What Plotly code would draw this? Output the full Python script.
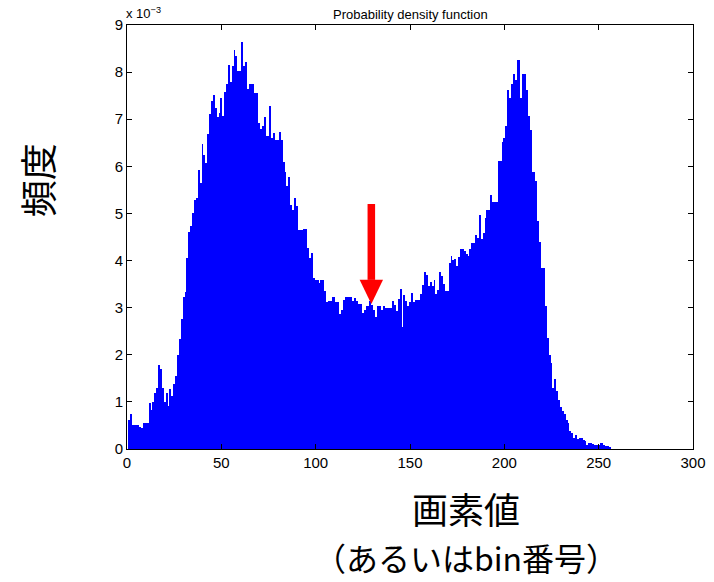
import plotly.graph_objects as go

# ---- data (in units of 1e-3) ----
bin_numbers = list(range(1, 257))
density_e3 = [
    0.62, 0.75, 0.50, 0.50, 0.50, 0.50, 0.47, 0.45, 0.55, 0.55,
    0.55, 0.97, 0.83, 1.00, 1.18, 1.30, 1.78, 1.70, 1.30, 1.00,
    1.18, 0.91, 1.27, 1.13, 1.39, 1.55, 1.99, 2.33, 2.77, 3.23,
    3.34, 4.05, 4.61, 4.73, 5.00, 5.28, 5.33, 5.92, 5.65, 6.47,
    6.24, 6.08, 6.69, 7.11, 7.39, 7.51, 7.23, 7.05, 7.14, 7.44,
    7.07, 7.57, 7.74, 8.16, 7.78, 8.14, 8.46, 8.34, 8.03, 8.03,
    8.63, 8.13, 8.21, 7.64, 7.74, 7.74, 7.74, 7.55, 7.55, 6.91,
    6.79, 6.86, 7.04, 6.65, 6.65, 7.28, 6.60, 6.71, 6.56, 6.56,
    6.72, 6.55, 6.09, 5.89, 5.58, 5.78, 5.18, 5.07, 5.32, 5.16,
    4.65, 4.65, 4.65, 4.67, 4.67, 4.26, 4.05, 4.15, 3.62, 3.59,
    3.59, 3.52, 3.59, 3.59, 3.35, 3.12, 3.15, 3.15, 3.22, 3.22,
    3.12, 3.12, 2.86, 2.94, 3.16, 3.22, 3.22, 3.22, 3.22, 3.15,
    3.20, 3.14, 3.07, 3.07, 2.88, 2.95, 3.03, 3.03, 3.14, 3.06,
    2.95, 2.81, 3.04, 3.04, 2.95, 3.04, 3.00, 2.99, 2.99, 2.99,
    3.14, 3.06, 2.92, 3.18, 3.40, 2.58, 3.27, 3.14, 3.04, 3.13,
    3.32, 3.13, 3.16, 3.16, 3.16, 3.29, 3.48, 3.76, 3.69, 3.45,
    3.55, 3.45, 3.59, 3.29, 3.38, 3.76, 3.67, 3.50, 3.35, 3.35,
    3.94, 4.10, 4.01, 4.03, 3.89, 4.08, 4.25, 4.25, 4.20, 4.13,
    4.10, 4.25, 4.37, 4.37, 4.54, 4.48, 4.97, 4.46, 4.58, 4.90,
    5.07, 5.07, 5.39, 5.25, 5.25, 5.25, 6.11, 6.11, 6.52, 6.60,
    6.86, 7.62, 7.44, 7.74, 7.96, 7.83, 8.25, 8.25, 7.44, 7.96,
    7.96, 7.62, 7.07, 6.77, 5.87, 5.87, 5.69, 4.85, 4.39, 3.84,
    3.84, 3.04, 2.35, 2.00, 1.82, 1.29, 1.48, 1.23, 1.04, 0.90,
    0.81, 0.74, 0.61, 0.56, 0.38, 0.35, 0.23, 0.30, 0.21, 0.23,
    0.24, 0.19, 0.17, 0.08, 0.13, 0.13, 0.10, 0.08, 0.08, 0.08,
    0.13, 0.13, 0.08, 0.07, 0.07, 0.05,
]
x_ticks = [0, 50, 100, 150, 200, 250, 300]
y_ticks = [0, 1, 2, 3, 4, 5, 6, 7, 8, 9]

# arrow marking the valley (data coordinates)
ARROW_X = 129.5
ARROW_TOP = 5.2
ARROW_HEAD_BASE = 3.59
ARROW_TIP = 3.08
SHAFT_HALF = 2.0
HEAD_HALF = 6.2

TICK_FONT = dict(family="Liberation Sans Narrow, Arial Narrow, Liberation Sans, Arial",
                 size=15, color="black")
CJK = "Noto Sans CJK JP, Noto Sans CJK SC, sans-serif"

fig = go.Figure(go.Bar(x=bin_numbers, y=density_e3, marker=dict(color="#0000FF", line=dict(width=0)),
                       width=1.0, hoverinfo="skip"))

axis_common = dict(showgrid=False, zeroline=False, showline=True, linecolor="black", linewidth=1,
                   mirror="ticks", ticks="inside", ticklen=5, tickwidth=1, tickcolor="black",
                   tickfont=TICK_FONT, ticklabeloverflow="allow", automargin=False)

PLOT_H = 424
fig.update_layout(
    width=714, height=582, autosize=False,
    margin=dict(l=127, r=21, t=25, b=133),
    paper_bgcolor="white", plot_bgcolor="white",
    bargap=0, showlegend=False, hovermode=False,
    xaxis=dict(range=[0, 300], tickvals=x_ticks, ticktext=[str(v) for v in x_ticks], **axis_common),
    yaxis=dict(range=[0, 9], tickvals=y_ticks, ticktext=[str(v) for v in y_ticks], **axis_common),
    shapes=[
        dict(type="rect", xref="x", yref="y", x0=ARROW_X - SHAFT_HALF, x1=ARROW_X + SHAFT_HALF,
             y0=ARROW_HEAD_BASE, y1=ARROW_TOP, fillcolor="#FF0000", line=dict(width=0), layer="above"),
        dict(type="path", xref="x", yref="y",
             path=f"M {ARROW_X - HEAD_HALF},{ARROW_HEAD_BASE} L {ARROW_X + HEAD_HALF},{ARROW_HEAD_BASE} "
                  f"L {ARROW_X},{ARROW_TIP} Z",
             fillcolor="#FF0000", line=dict(width=0), layer="above"),
    ],
    annotations=[
        dict(text="Probability density function", xref="paper", yref="paper", x=0.5, y=1 + 10 / PLOT_H,
             xanchor="center", yanchor="middle", showarrow=False,
             font=dict(family="Liberation Sans, Arial", size=13, color="black")),
        dict(text="x 10<sup>−3</sup>", xref="paper", yref="paper", x=0, y=1 + 12 / PLOT_H,
             xanchor="left", yanchor="middle", xshift=-3, showarrow=False,
             font=dict(family="Liberation Sans, Arial", size=13, color="black")),
        dict(text="頻度", xref="paper", yref="paper", x=-0.159, y=0.634, textangle=-90,
             xanchor="center", yanchor="middle", showarrow=False,
             font=dict(family=CJK, size=37, color="black")),
        dict(text="画素値<br><span style='font-size:32px'>（あるいはbin番号）</span>",
             xref="paper", yref="paper", x=0.599, y=-(531 - 449) / PLOT_H,
             xanchor="center", yanchor="middle", showarrow=False,
             font=dict(family=CJK, size=36, color="black")),
    ],
)

fig.write_html(
    "out.html",
    config={"displayModeBar": False, "staticPlot": True},
    post_script="document.documentElement.style.overflow='hidden';"
                "document.body.style.margin='0px';document.body.style.overflow='hidden';",
)
